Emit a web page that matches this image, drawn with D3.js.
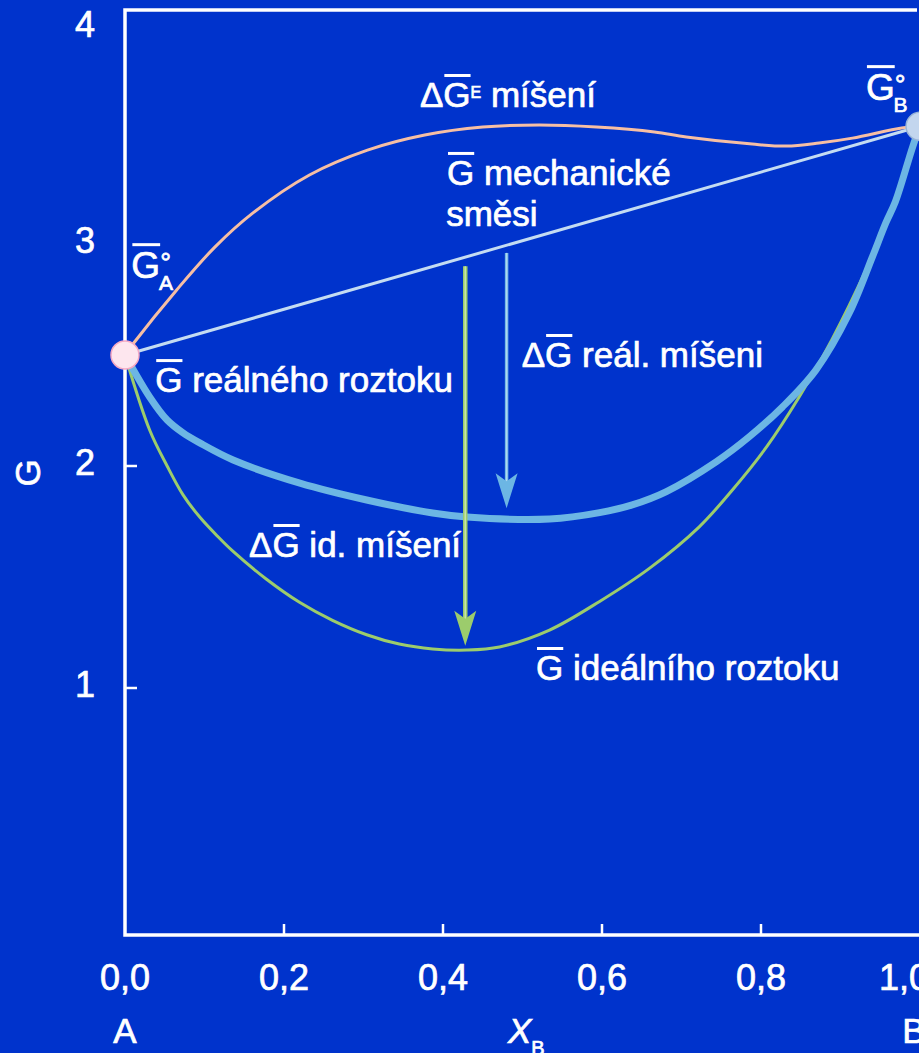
<!DOCTYPE html>
<html>
<head>
<meta charset="utf-8">
<script src="https://cdn.jsdelivr.net/npm/d3@7"></script>
<style>
  html, body { margin: 0; padding: 0; background: #0033cc; }
  text { font-family: "Liberation Sans", Arial, sans-serif; fill: #ffffff; stroke: #ffffff; stroke-width: 0.7px; }
</style>
</head>
<body>
<svg id="chart"></svg>
<script>
// Curves: composition X_B and molar Gibbs energy G.
const excessX = [0, 0.011, 0.065, 0.113, 0.161, 0.232, 0.305, 0.377, 0.450, 0.521, 0.593, 0.666, 0.706, 0.789, 0.832, 0.873, 0.915, 0.977, 1];
const excessG = [2.5, 2.554, 2.793, 2.986, 3.140, 3.311, 3.423, 3.491, 3.527, 3.536, 3.527, 3.505, 3.482, 3.450, 3.441, 3.455, 3.477, 3.523, 3.53];

const mechX = [0, 1];
const mechG = [2.5, 3.53];

const realX = [0, 0.031, 0.053, 0.073, 0.094, 0.136, 0.220, 0.304, 0.387, 0.430, 0.534, 0.597, 0.638, 0.681, 0.744, 0.785, 0.827, 0.869, 0.911, 0.940, 0.957, 0.969, 0.991, 1];
const realG = [2.5, 2.311, 2.207, 2.149, 2.104, 2.027, 1.923, 1.847, 1.788, 1.770, 1.761, 1.790, 1.825, 1.885, 2.020, 2.131, 2.266, 2.432, 2.689, 2.941, 3.095, 3.190, 3.440, 3.53];

const idealX = [0, 0.031, 0.053, 0.073, 0.094, 0.116, 0.136, 0.178, 0.220, 0.261, 0.304, 0.345, 0.387, 0.430, 0.471, 0.534, 0.597, 0.660, 0.722, 0.764, 0.807, 0.848, 0.889, 0.932, 0.957, 0.971, 1];
const idealG = [2.5, 2.162, 2.000, 1.870, 1.770, 1.685, 1.615, 1.490, 1.385, 1.305, 1.240, 1.198, 1.176, 1.171, 1.185, 1.261, 1.390, 1.540, 1.725, 1.892, 2.086, 2.311, 2.568, 2.883, 3.095, 3.220, 3.53];

// Pure components A and B.
const pointX = [0, 1];
const pointG = [2.5, 3.53];

// Mixing arrows: from the mechanical mixture line down to the solutions.
const arrowX = [0.428, 0.48];
const arrowFrom = [2.90, 2.96];
const arrowTo = [1.19, 1.81];

// Ticks.
const xTicks = [0, 0.2, 0.4, 0.6, 0.8, 1.0];
const xTickMarks = [0.2, 0.4, 0.6, 0.8];
const yTicks = [1, 2, 3, 4];
const yTickMarks = [1, 2];

const width = 919, height = 1053;
const frame = { left: 125, top: 10, bottom: 935, right: 917 };

const svg = d3.select("#chart").attr("width", width).attr("height", height);
svg.append("rect").attr("width", width).attr("height", height).attr("fill", "#0033cc");

const x = d3.scaleLinear().domain([0, 1]).range([125, 920]);
const y = d3.scaleLinear().domain([0, 4]).range([910, 22]);

// Frame: top, left and bottom edges.
svg.append("path")
  .attr("d", `M${frame.right},${frame.top}H${frame.left}V${frame.bottom}H${width}`)
  .attr("fill", "none")
  .attr("stroke", "#ffffff")
  .attr("stroke-width", 3.5);

// Tick marks point into the plot.
svg.selectAll(".xtick").data(xTickMarks).join("line")
  .attr("x1", d => x(d)).attr("x2", d => x(d))
  .attr("y1", frame.bottom).attr("y2", frame.bottom - 11)
  .attr("stroke", "#ffffff").attr("stroke-width", 2.5);
svg.selectAll(".ytick").data(yTickMarks).join("line")
  .attr("x1", frame.left).attr("x2", frame.left + 12)
  .attr("y1", d => y(d)).attr("y2", d => y(d))
  .attr("stroke", "#ffffff").attr("stroke-width", 2.5);

// Tick labels with decimal comma.
const fmt = d => d3.format(".1f")(d).replace(".", ",");
svg.selectAll(".xlabel").data(xTicks).join("text")
  .attr("x", d => x(d) - (d === 1 ? 16 : 0))
  .attr("y", 990)
  .attr("text-anchor", "middle")
  .attr("font-size", 36)
  .text(fmt);
svg.selectAll(".ylabel").data(yTicks).join("text")
  .attr("x", 85)
  .attr("y", d => Math.max(37, y(d) + 9))
  .attr("text-anchor", "middle")
  .attr("font-size", 36)
  .text(d => d);

// Axis titles.
svg.append("text")
  .attr("transform", "translate(40,473) rotate(-90)")
  .attr("text-anchor", "middle")
  .attr("font-size", 35)
  .text("G");
svg.append("text").attr("x", x(0)).attr("y", 1043).attr("text-anchor", "middle").attr("font-size", 35).text("A");
svg.append("text").attr("x", x(1) - 6).attr("y", 1043).attr("text-anchor", "middle").attr("font-size", 35).text("B");
const xt = svg.append("text").attr("x", 508).attr("y", 1043).attr("font-size", 35);
xt.append("tspan").attr("font-style", "italic").text("X");
xt.append("tspan").attr("font-size", 20).attr("dy", 12).text("B");

// Curves.
const line = d3.line()
  .x(d => x(d[0]))
  .y(d => y(d[1]))
  .curve(d3.curveCatmullRom.alpha(0.5));

function drawCurve(xs, gs, color, w) {
  svg.append("path")
    .attr("d", line(d3.zip(xs, gs)))
    .attr("fill", "none")
    .attr("stroke", color)
    .attr("stroke-width", w)
    .attr("stroke-linejoin", "round")
    .attr("stroke-linecap", "round");
}
drawCurve(excessX, excessG, "#f6bfa4", 3);
drawCurve(mechX, mechG, "#c4dcf2", 3);
drawCurve(idealX, idealG, "#9ccc6c", 3);
drawCurve(realX, realG, "#6cb6e4", 7);

// Arrows.
const arrowColor = ["#9ccc6c", "#6cb6e4"];
const arrowLight = ["#c6e3a8", "#b0d6f2"];
const arrowWidth = [4.5, 3.5];
arrowX.forEach((ax, i) => {
  const px = x(ax), y0 = y(arrowFrom[i]), tip = y(arrowTo[i]);
  svg.append("line")
    .attr("x1", px).attr("x2", px).attr("y1", y0).attr("y2", tip - 26)
    .attr("stroke", arrowColor[i]).attr("stroke-width", arrowWidth[i]);
  svg.append("line")
    .attr("x1", px).attr("x2", px).attr("y1", y0).attr("y2", tip - 26)
    .attr("stroke", arrowLight[i]).attr("stroke-width", 1.5);
  svg.append("path")
    .attr("d", `M${px},${tip}L${px - 11},${tip - 35}L${px},${tip - 27}L${px + 11},${tip - 35}Z`)
    .attr("fill", arrowColor[i]);
});

// Pure component points.
const pointFill = ["#fde6ee", "#c3d6ee"];
const pointStroke = ["#f4a9c4", "#98b4d8"];
pointX.forEach((px, i) => {
  svg.append("circle")
    .attr("cx", x(px)).attr("cy", y(pointG[i])).attr("r", 14)
    .attr("fill", pointFill[i])
    .attr("stroke", pointStroke[i])
    .attr("stroke-width", 1.5);
});

// Text with an overbar on the "G" parts.
function richText(px, py, parts, fs) {
  const t = svg.append("text").attr("x", px).attr("y", py).attr("font-size", fs);
  let shift = 0;
  parts.forEach(p => {
    const ts = t.append("tspan").text(p.t);
    const target = p.dy || 0;
    if (target !== shift) { ts.attr("dy", target - shift); shift = target; }
    if (p.size) ts.attr("font-size", p.size);
    if (p.dx) ts.attr("dx", p.dx);
  });
  const node = t.node();
  let idx = 0;
  parts.forEach(p => {
    if (p.bar) {
      const start = idx ? node.getSubStringLength(0, idx) : 0;
      const w = node.getSubStringLength(idx, p.t.length);
      svg.append("line")
        .attr("x1", px + start + 1).attr("x2", px + start + w)
        .attr("y1", py - fs * 0.9).attr("y2", py - fs * 0.9)
        .attr("stroke", "#ffffff").attr("stroke-width", 3);
    }
    idx += p.t.length;
  });
  return node.getComputedTextLength();
}

// Annotation positions in data units (left edge, baseline).
richText(x(0.371), y(3.617), [{ t: "Δ" }, { t: "G", bar: true }, { t: "E", size: 16, dy: -9 }, { t: " míšení" }], 35);
richText(x(0.405), y(3.266), [{ t: "G", bar: true }, { t: " mechanické" }], 35);
richText(x(0.404), y(3.081), [{ t: "směsi" }], 35);
richText(x(0.038), y(2.333), [{ t: "G", bar: true }, { t: " reálného roztoku" }], 35);
richText(x(0.156), y(1.590), [{ t: "Δ" }, { t: "G", bar: true }, { t: " id. míšení" }], 35);
richText(x(0.499), y(2.446), [{ t: "Δ" }, { t: "G", bar: true }, { t: " reál. míšeni" }], 35);
richText(x(0.517), y(1.036), [{ t: "G", bar: true }, { t: " ideálního roztoku" }], 35);

// Standard Gibbs energies of the pure components: G with bar, degree above, subscript below.
function pureLabel(px, py, sub) {
  richText(px, py, [
    { t: "G", bar: true },
    { t: "°", size: 27, dy: -6 },
    { t: sub, size: 21, dy: 12, dx: -12 }
  ], 37);
}
pureLabel(x(0.008), y(2.847), "A");
pureLabel(x(0.932), y(3.649), "B");
</script>
</body>
</html>
